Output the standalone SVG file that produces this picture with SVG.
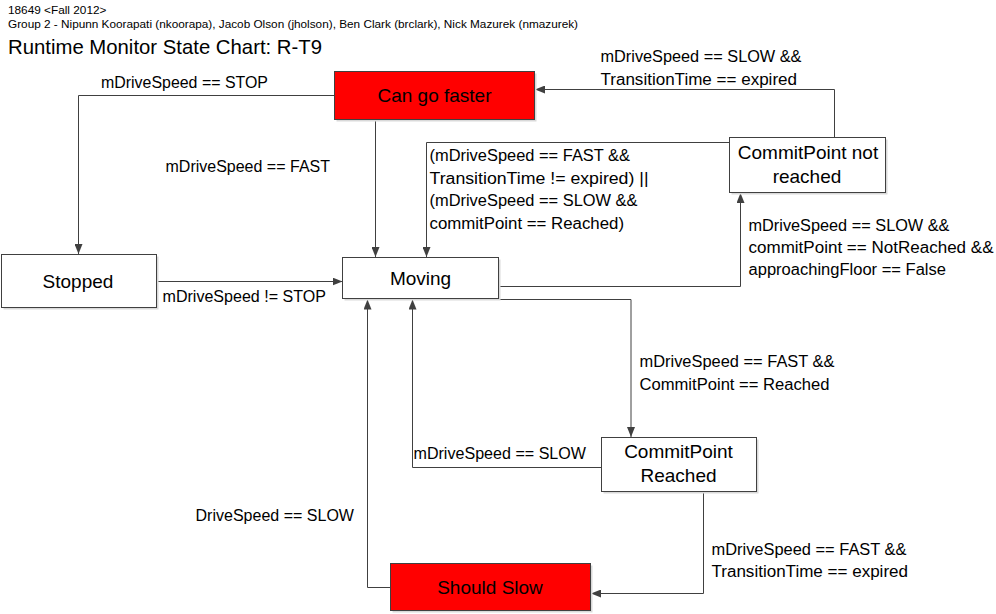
<svg xmlns="http://www.w3.org/2000/svg" width="996" height="614" viewBox="0 0 996 614">
<style>
text{font-family:"Liberation Sans",Arial,sans-serif;fill:#000}
.hdr{font-size:11.8px}
.ttl{font-size:20.3px}
.lbl{font-size:15.8px}
.nt{font-size:19px;text-anchor:middle}
.box{stroke:#404040;stroke-width:1}
.white{fill:#fff}
.red{fill:#ff0000}
.shadow{fill:#d9d9d9;stroke:none}
.conn{fill:none;stroke:#404040;stroke-width:1;marker-end:url(#arr)}
</style>
<defs>
<marker id="arr" viewBox="0 0 10 8" markerWidth="10" markerHeight="8" refX="10" refY="4" orient="auto" markerUnits="userSpaceOnUse">
<path d="M0,0 L10,4 L0,8 z" fill="#404040"/>
</marker>
</defs>
<rect width="996" height="614" fill="#fff"/>
<g id="header">
<text class="hdr" x="8" y="14">18649 &lt;Fall 2012&gt;</text>
<text class="hdr" x="8" y="28" textLength="570" lengthAdjust="spacingAndGlyphs">Group 2 - Nipunn Koorapati (nkoorapa), Jacob Olson (jholson), Ben Clark (brclark), Nick Mazurek (nmazurek)</text>
<text class="ttl" x="8" y="54" textLength="314" lengthAdjust="spacingAndGlyphs">Runtime Monitor State Chart: R-T9</text>
</g>
<g id="connectors">
<path class="conn" d="M334,95.5 H78.5 V254"/>
<path class="conn" d="M375.5,120 V257"/>
<path class="conn" d="M157,281.5 H342.5"/>
<path class="conn" d="M499,286.5 H740.5 V193"/>
<path class="conn" d="M834.5,137 V89.5 H535"/>
<path class="conn" d="M729,142.5 H426.5 V257"/>
<path class="conn" d="M499,299.5 H631 V437"/>
<path class="conn" d="M601,467.5 H412.5 V299.5"/>
<path class="conn" d="M703.5,492 V593.5 H591"/>
<path class="conn" d="M390,587.5 H367.5 V299.5"/>
<text class="lbl" x="101" y="88" textLength="167" lengthAdjust="spacingAndGlyphs">mDriveSpeed == STOP</text>
<text class="lbl" x="165.5" y="172" textLength="164.5" lengthAdjust="spacingAndGlyphs">mDriveSpeed == FAST</text>
<text class="lbl" x="162.5" y="302" textLength="163.5" lengthAdjust="spacingAndGlyphs">mDriveSpeed != STOP</text>
<text class="lbl" x="600.5" y="62" textLength="201" lengthAdjust="spacingAndGlyphs">mDriveSpeed == SLOW &amp;&amp;</text>
<text class="lbl" x="600.5" y="85" textLength="196.5" lengthAdjust="spacingAndGlyphs">TransitionTime == expired</text>
<text class="lbl" x="429.5" y="161" textLength="200.5" lengthAdjust="spacingAndGlyphs">(mDriveSpeed == FAST &amp;&amp;</text>
<text class="lbl" x="429.5" y="183.5" textLength="219" lengthAdjust="spacingAndGlyphs">TransitionTime != expired) ||</text>
<text class="lbl" x="429.5" y="206" textLength="208" lengthAdjust="spacingAndGlyphs">(mDriveSpeed == SLOW &amp;&amp;</text>
<text class="lbl" x="429.5" y="228.5" textLength="194.5" lengthAdjust="spacingAndGlyphs">commitPoint == Reached)</text>
<text class="lbl" x="748.5" y="231" textLength="201" lengthAdjust="spacingAndGlyphs">mDriveSpeed == SLOW &amp;&amp;</text>
<text class="lbl" x="748.5" y="253" textLength="245" lengthAdjust="spacingAndGlyphs">commitPoint == NotReached &amp;&amp;</text>
<text class="lbl" x="748.5" y="275" textLength="197.5" lengthAdjust="spacingAndGlyphs">approachingFloor == False</text>
<text class="lbl" x="639.5" y="367" textLength="195" lengthAdjust="spacingAndGlyphs">mDriveSpeed == FAST &amp;&amp;</text>
<text class="lbl" x="639.5" y="390" textLength="190" lengthAdjust="spacingAndGlyphs">CommitPoint == Reached</text>
<text class="lbl" x="413.5" y="459" textLength="172.5" lengthAdjust="spacingAndGlyphs">mDriveSpeed == SLOW</text>
<text class="lbl" x="711.5" y="555" textLength="195" lengthAdjust="spacingAndGlyphs">mDriveSpeed == FAST &amp;&amp;</text>
<text class="lbl" x="711.5" y="577" textLength="196.5" lengthAdjust="spacingAndGlyphs">TransitionTime == expired</text>
<text class="lbl" x="195.5" y="521" textLength="158.5" lengthAdjust="spacingAndGlyphs">DriveSpeed == SLOW</text>
</g>
<g id="node-can-go-faster">
<rect class="shadow" x="336.5" y="73.5" width="200" height="48"/>
<rect class="box red" x="334.5" y="71.5" width="200" height="48"/>
<text class="nt" x="434.5" y="102">Can go faster</text>
</g>
<g id="node-stopped">
<rect class="shadow" x="3.5" y="256.5" width="155" height="53"/>
<rect class="box white" x="1.5" y="254.5" width="155" height="53"/>
<text class="nt" x="78" y="288">Stopped</text>
</g>
<g id="node-moving">
<rect class="shadow" x="344.5" y="259.5" width="156" height="41"/>
<rect class="box white" x="342.5" y="257.5" width="156" height="41"/>
<text class="nt" x="420.5" y="285">Moving</text>
</g>
<g id="node-commitpoint-not-reached">
<rect class="shadow" x="731.5" y="139.5" width="156" height="55"/>
<rect class="box white" x="729.5" y="137.5" width="156" height="55"/>
<text class="nt" x="808" y="159">CommitPoint not</text>
<text class="nt" x="807" y="183">reached</text>
</g>
<g id="node-commitpoint-reached">
<rect class="shadow" x="603.5" y="439.5" width="155" height="54"/>
<rect class="box white" x="601.5" y="437.5" width="155" height="54"/>
<text class="nt" x="678.5" y="458">CommitPoint</text>
<text class="nt" x="678.5" y="482">Reached</text>
</g>
<g id="node-should-slow">
<rect class="shadow" x="392.5" y="565.5" width="200" height="47"/>
<rect class="box red" x="390.5" y="563.5" width="200" height="47"/>
<text class="nt" x="490" y="594">Should Slow</text>
</g>
</svg>
